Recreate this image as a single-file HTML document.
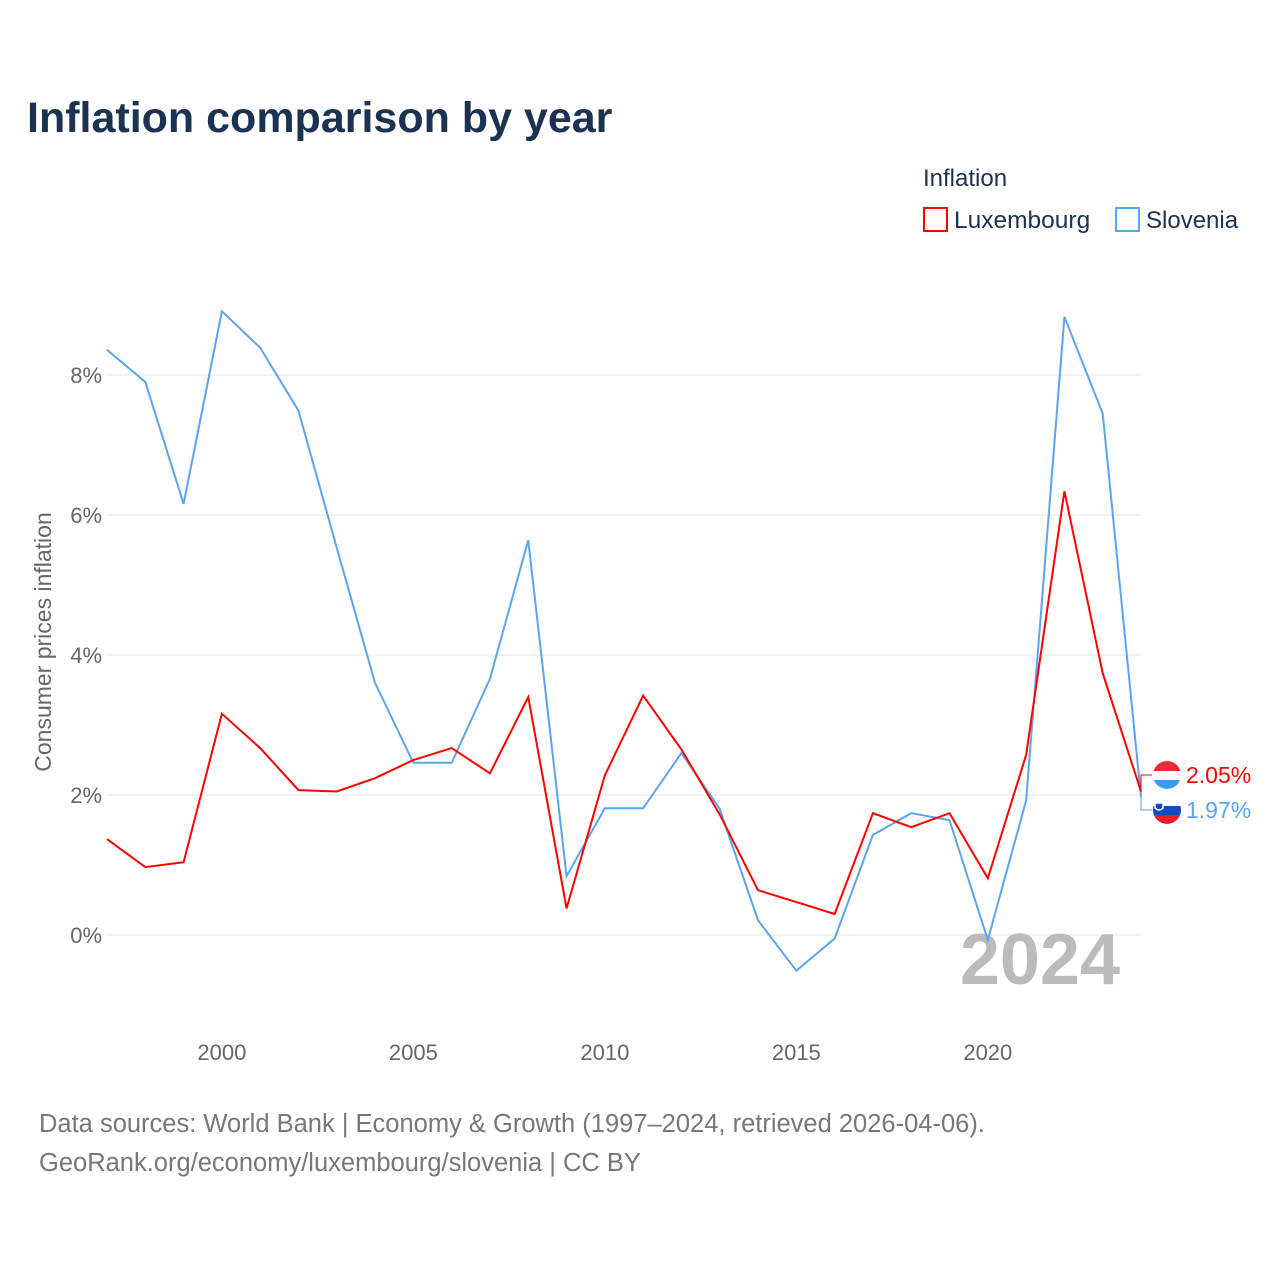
<!DOCTYPE html>
<html><head><meta charset="utf-8"><style>
html,body{margin:0;padding:0;background:#fff;}
body{width:1280px;height:1280px;position:relative;font-family:"Liberation Sans",sans-serif;}
svg text{font-family:"Liberation Sans",sans-serif;}
</style></head><body>
<svg id="chart" width="1280" height="1280" xmlns="http://www.w3.org/2000/svg">
<text x="27" y="132" font-size="43" font-weight="bold" fill="#1b3250">Inflation comparison by year</text>
<g>
<text x="923" y="186" font-size="24" fill="#1b3250">Inflation</text>
<rect x="924" y="208" width="23" height="23" fill="#fff" stroke="#f00" stroke-width="2"/>
<text x="954" y="228" font-size="24.5" fill="#1b3250">Luxembourg</text>
<rect x="1116" y="208" width="23" height="23" fill="#fff" stroke="#5aa5ee" stroke-width="2"/>
<text x="1146" y="228" font-size="24" fill="#1b3250">Slovenia</text>
</g>
<text transform="translate(51,642) rotate(-90)" text-anchor="middle" font-size="23" fill="#666">Consumer prices inflation</text>
<g id="grid"></g><g id="xt"></g>
<text x="1120" y="984" text-anchor="end" font-size="72" font-weight="bold" fill="#bbb">2024</text>
<g id="series"></g>
<g>
<polyline points="1141,790 1141,775 1152,775" fill="none" stroke="#f00" stroke-width="1"/>
<polyline points="1141,796 1141,810 1152,810" fill="none" stroke="#5aa5ee" stroke-width="1"/>
<defs><clipPath id="c1"><circle cx="1167" cy="775" r="14"/></clipPath><clipPath id="c2"><circle cx="1167" cy="810" r="14"/></clipPath></defs>
<g clip-path="url(#c1)"><rect x="1153" y="761" width="28" height="10" fill="#ed2939"/><rect x="1153" y="771" width="28" height="9" fill="#fff"/><rect x="1153" y="780" width="28" height="10" fill="#3b9cf5"/></g>
<g clip-path="url(#c2)"><rect x="1153" y="796" width="28" height="10" fill="#fff"/><rect x="1153" y="806" width="28" height="9" fill="#0c4cc4"/><rect x="1153" y="815" width="28" height="10" fill="#ed1c24"/><path d="M1155 803h8v5q-4 4-8 0z" fill="#0c4cc4" stroke="#fff" stroke-width="1.5"/></g>
<text x="1186" y="783" font-size="23" fill="#f00">2.05%</text>
<text x="1186" y="818" font-size="23" fill="#5aa5ee">1.97%</text>
</g>
<text x="39" y="1132" font-size="25.5" fill="#777">Data sources: World Bank | Economy &amp; Growth (1997–2024, retrieved 2026-04-06).</text>
<text x="39" y="1171" font-size="25.5" fill="#777">GeoRank.org/economy/luxembourg/slovenia | CC BY</text>
</svg>
<script>
const years=[1997,1998,1999,2000,2001,2002,2003,2004,2005,2006,2007,2008,2009,2010,2011,2012,2013,2014,2015,2016,2017,2018,2019,2020,2021,2022,2023,2024];
const luxembourg=[1.37,0.97,1.04,3.16,2.67,2.07,2.05,2.24,2.50,2.67,2.31,3.40,0.38,2.28,3.42,2.65,1.72,0.64,0.47,0.30,1.74,1.54,1.74,0.81,2.57,6.34,3.74,2.05];
const slovenia=[8.36,7.90,6.16,8.91,8.39,7.49,5.53,3.60,2.46,2.46,3.66,5.64,0.84,1.81,1.81,2.60,1.80,0.21,-0.51,-0.05,1.43,1.74,1.64,-0.07,1.92,8.83,7.45,1.97];
const yTicks=[0,2,4,6,8];
const xTicks=[2000,2005,2010,2015,2020];
const NS="http://www.w3.org/2000/svg";
const X=y=>107+(y-1997)*(1141-107)/27;
const Y=v=>935-v*70;
function mk(tag,attrs,parent){const e=document.createElementNS(NS,tag);for(const k in attrs)e.setAttribute(k,attrs[k]);parent.appendChild(e);return e;}
const grid=document.getElementById('grid');
yTicks.forEach(t=>{
 const l=mk('line',{x1:107,x2:1141,y1:Y(t),y2:Y(t),stroke:'#e6e6e6','stroke-width':1},grid);
 
 
 const tx=mk('text',{x:102,y:Y(t)+8,'text-anchor':'end','font-size':22,fill:'#666'},grid);
 tx.textContent=t+'%';
 
 
});
const xt=document.getElementById('xt');
xTicks.forEach(t=>{
 const tx=mk('text',{x:X(t),y:1060,'text-anchor':'middle','font-size':22,fill:'#666'},xt);
 tx.textContent=t;
 
 
});
const s=document.getElementById('series');
[[slovenia,'#5aa5ee','slovenia-line'],[luxembourg,'#f00','luxembourg-line']].forEach(([d,c,n])=>{
 const p=mk('polyline',{points:d.map((v,i)=>X(years[i])+','+Y(v)).join(' '),fill:'none',stroke:c,'stroke-width':2},s);
 
 
});
</script>
</body></html>
